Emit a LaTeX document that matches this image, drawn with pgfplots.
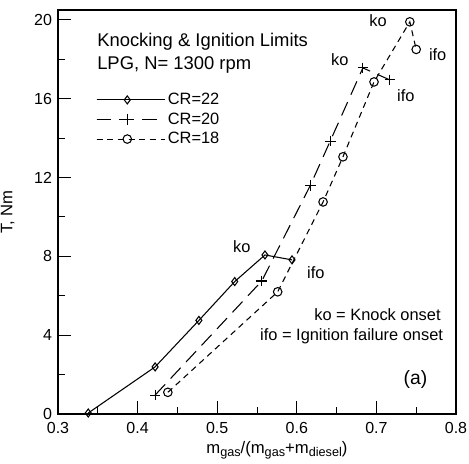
\documentclass[border=0pt]{standalone}
\usepackage{fontspec}
\setmainfont{Liberation Sans}
\usepackage{pgfplots}
\pgfplotsset{compat=1.18}
\newcommand{\sub}[1]{\raisebox{-0.3ex}{\fontsize{9.5}{11}\selectfont #1}}
\begin{document}
\begin{tikzpicture}
\begin{axis}[
  scale only axis,
  width=298.5pt, height=303pt,
  xmin=0.3, xmax=0.8, ymin=0, ymax=20.5,
  xtick={0.3,0.4,0.5,0.6,0.7,0.8},
  ytick={0,4,8,12,16,20},
  minor x tick num=1, minor y tick num=1,
  xticklabel style={/pgf/number format/fixed,/pgf/number format/precision=1, yshift=-3pt},
  yticklabel style={xshift=-1pt},
  /pgf/number format/assume math mode=true,
  tick label style={font=\fontsize{12}{14}\selectfont},
  xtick pos=bottom, ytick pos=left,
  tick align=inside,
  major tick length=10pt, minor tick length=5.5pt,
  every tick/.style={black, line width=0.7pt},
  axis line style={line width=0.8pt},
  xlabel={m\sub{gas}/(m\sub{gas}+m\sub{diesel})},
  ylabel={T, Nm},
  label style={font=\fontsize{12.5}{14}\selectfont},
  xlabel style={at={(axis description cs:0.55,0)}, anchor=north, yshift=-17pt},
  ylabel style={at={(axis description cs:0,0.5)}, anchor=south, yshift=29pt},
  legend style={draw=none, fill=none, at={(0.085,0.808)}, anchor=north west,
     font=\fontsize{12.3}{14}\selectfont, row sep=0.6pt},
  legend cell align=left,
  legend image code/.code={\draw[mark repeat=2,mark phase=2] plot coordinates {(0pt,0pt) (23pt,0pt) (46pt,0pt)};
     \path (0pt,0pt) -- (51pt,0pt);},
]
\addplot[black, line width=0.8pt, mark=diamond, mark size=3pt, mark options={solid}]
 coordinates {(0.338,0.05) (0.422,2.39) (0.477,4.75) (0.522,6.72) (0.560,8.07) (0.594,7.82)};
\addlegendentry{CR=22}
\addplot[black, line width=0.8pt, dash pattern=on 11pt off 6pt, mark=+, mark size=4pt, mark options={solid}]
 coordinates {(0.422,0.96) (0.556,6.75) (0.617,11.6) (0.642,13.85) (0.683,17.56) (0.717,16.95)};
\addlegendentry{CR=20}
\addplot[black, line width=0.8pt, dash pattern=on 4.5pt off 3.5pt, mark=o, mark size=3.2pt, mark options={solid}]
 coordinates {(0.438,1.1) (0.576,6.2) (0.633,10.76) (0.658,13.05) (0.697,16.85) (0.742,19.9) (0.750,18.5)};
\addlegendentry{CR=18}
\begin{scope}[every node/.style={font=\fontsize{12.3}{14}\selectfont, inner sep=0pt}]
\node[anchor=base west, font=\fontsize{13.8}{16}\selectfont] at (axis cs:0.349,18.63) {Knocking \& Ignition Limits};
\node[anchor=base west, font=\fontsize{13.8}{16}\selectfont] at (axis cs:0.349,17.46) {LPG, N= 1300 rpm};
\node[anchor=base east] at (axis cs:0.781,4.72) {ko = Knock onset};
\node[anchor=base east] at (axis cs:0.784,3.71) {ifo = Ignition failure onset};
\node[anchor=base, font=\fontsize{14.5}{16}\selectfont] at (axis cs:0.749,1.52) {(a)};
\node[anchor=base] at (axis cs:0.531,8.22) {ko};
\node[anchor=base] at (axis cs:0.624,6.9) {ifo};
\node[anchor=base] at (axis cs:0.654,17.7) {ko};
\node[anchor=base] at (axis cs:0.737,15.84) {ifo};
\node[anchor=base] at (axis cs:0.702,19.64) {ko};
\node[anchor=base] at (axis cs:0.777,17.92) {ifo};
\end{scope}
\end{axis}
\pgfresetboundingbox
\path (current axis.south west) ++(-43.5pt,-37.5pt) coordinate (bbA);
\path (current axis.south west) ++(308.25pt,310.5pt) coordinate (bbB);
\useasboundingbox (bbA) rectangle (bbB);
\end{tikzpicture}
\end{document}
